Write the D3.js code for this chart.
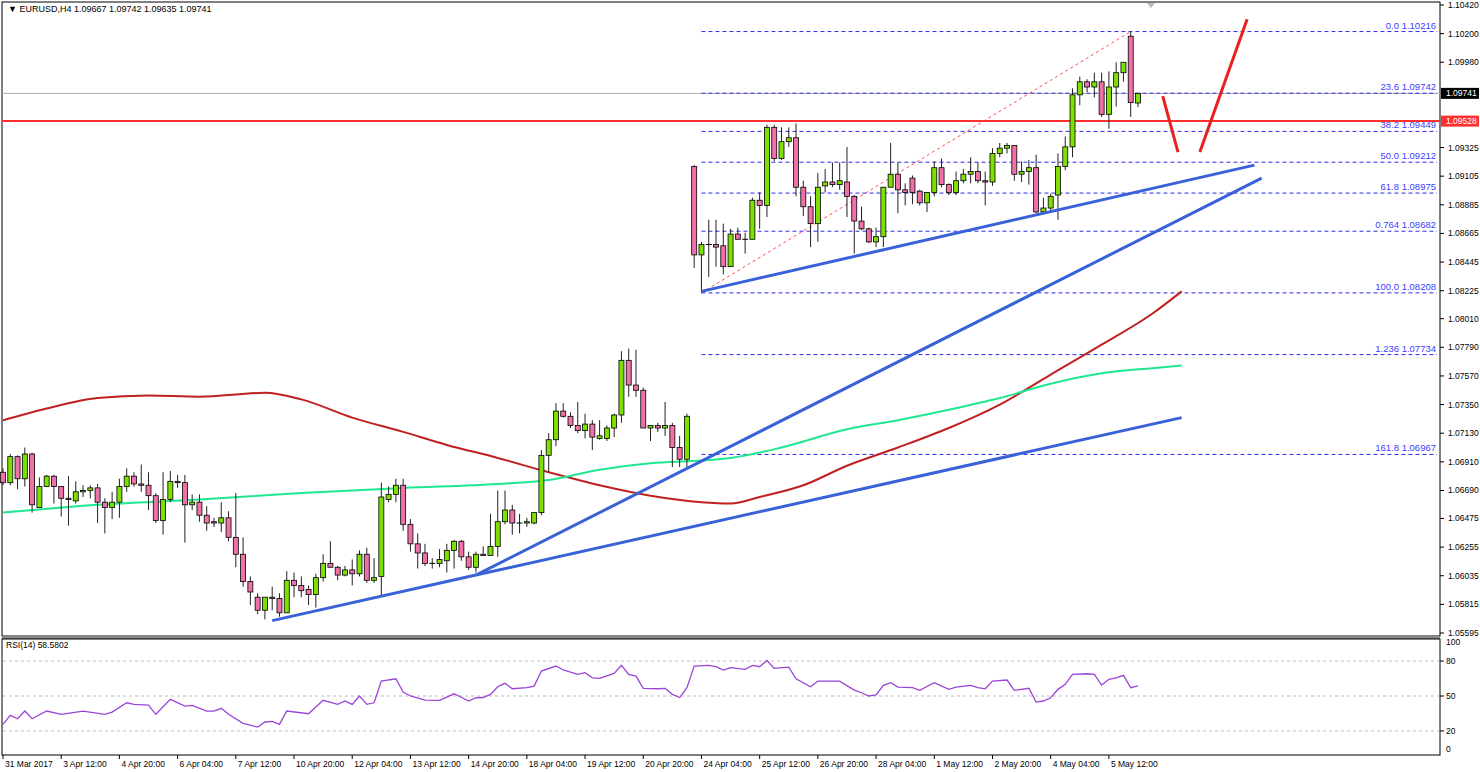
<!DOCTYPE html>
<html><head><meta charset="utf-8">
<script src="https://cdn.jsdelivr.net/npm/d3@7"></script>
<style>body{margin:0;background:#fff}svg{display:block;font-family:"Liberation Sans",Arial,sans-serif}</style>
</head><body><svg id="c" width="1480" height="772"></svg>
<script>
const ohlc=[
[1.0683,1.0686,1.0673,1.0675],[1.0675,1.0697,1.0673,1.0695],[1.0695,1.0696,1.0670,1.0678],[1.0678,1.0702,1.0672,1.0697],
[1.0697,1.0698,1.0652,1.0658],[1.0656,1.0679,1.0656,1.0672],[1.0672,1.0681,1.0672,1.0680],[1.0680,1.0681,1.0659,1.0672],
[1.0672,1.0672,1.0649,1.0663],[1.0663,1.0680,1.0642,1.0662],[1.0661,1.0676,1.0659,1.0668],[1.0668,1.0673,1.0664,1.0669],
[1.0669,1.0673,1.0663,1.0671],[1.0671,1.0674,1.0644,1.0660],[1.0660,1.0663,1.0636,1.0656],[1.0656,1.0668,1.0647,1.0660],
[1.0660,1.0678,1.0648,1.0672],[1.0672,1.0686,1.0668,1.0680],[1.0680,1.0683,1.0672,1.0674],[1.0674,1.0689,1.0668,1.0673],
[1.0673,1.0683,1.0654,1.0665],[1.0665,1.0667,1.0644,1.0646],[1.0646,1.0683,1.0635,1.0662],[1.0662,1.0684,1.0660,1.0676],
[1.0676,1.0681,1.0671,1.0675],[1.0675,1.0681,1.0629,1.0658],[1.0658,1.0666,1.0654,1.0660],[1.0660,1.0666,1.0645,1.0650],
[1.0650,1.0657,1.0638,1.0644],[1.0645,1.0648,1.0641,1.0644],[1.0644,1.0660,1.0637,1.0648],[1.0648,1.0653,1.0630,1.0633],
[1.0633,1.0667,1.0610,1.0620],[1.0620,1.0633,1.0595,1.0599],[1.0599,1.0603,1.0581,1.0591],[1.0587,1.0590,1.0574,1.0577],
[1.0577,1.0587,1.0570,1.0587],[1.0587,1.0595,1.0577,1.0586],[1.0586,1.0590,1.0572,1.0575],[1.0575,1.0607,1.0575,1.0600],
[1.0600,1.0606,1.0587,1.0596],[1.0596,1.0603,1.0587,1.0592],[1.0593,1.0596,1.0581,1.0589],[1.0589,1.0605,1.0579,1.0602],
[1.0602,1.0620,1.0599,1.0613],[1.0613,1.0630,1.0610,1.0610],[1.0610,1.0611,1.0600,1.0604],[1.0604,1.0611,1.0603,1.0608],
[1.0608,1.0616,1.0596,1.0605],[1.0605,1.0623,1.0603,1.0620],[1.0620,1.0625,1.0598,1.0600],[1.0600,1.0617,1.0598,1.0602],
[1.0603,1.0675,1.0588,1.0664],[1.0662,1.0672,1.0660,1.0666],[1.0666,1.0678,1.0660,1.0673],[1.0673,1.0678,1.0638,1.0643],
[1.0643,1.0647,1.0622,1.0628],[1.0628,1.0636,1.0609,1.0621],[1.0621,1.0628,1.0611,1.0613],[1.0613,1.0617,1.0609,1.0613],
[1.0613,1.0624,1.0610,1.0616],[1.0615,1.0628,1.0606,1.0623],[1.0623,1.0631,1.0609,1.0630],[1.0630,1.0631,1.0615,1.0618],
[1.0618,1.0622,1.0608,1.0610],[1.0610,1.0622,1.0606,1.0620],[1.0620,1.0626,1.0619,1.0619],[1.0619,1.0651,1.0619,1.0626],
[1.0626,1.0669,1.0618,1.0645],[1.0645,1.0669,1.0643,1.0654],[1.0654,1.0658,1.0635,1.0644],[1.0644,1.0651,1.0636,1.0644],
[1.0644,1.0648,1.0641,1.0645],[1.0644,1.0652,1.0643,1.0652],[1.0652,1.0700,1.0650,1.0696],[1.0696,1.0713,1.0683,1.0708],
[1.0708,1.0736,1.0703,1.0730],[1.0730,1.0736,1.0725,1.0726],[1.0726,1.0729,1.0717,1.0719],[1.0719,1.0737,1.0713,1.0715],
[1.0715,1.0728,1.0709,1.0720],[1.0720,1.0723,1.0700,1.0710],[1.0709,1.0723,1.0708,1.0711],[1.0709,1.0719,1.0707,1.0717],
[1.0717,1.0728,1.0710,1.0727],[1.0727,1.0776,1.0721,1.0769],[1.0769,1.0778,1.0741,1.0750],[1.0750,1.0777,1.0741,1.0746],
[1.0746,1.0748,1.0718,1.0717],[1.0717,1.0719,1.0707,1.0719],[1.0719,1.0721,1.0714,1.0717],[1.0717,1.0737,1.0711,1.0719],
[1.0719,1.0721,1.0687,1.0702],[1.0702,1.0711,1.0687,1.0693],[1.0693,1.0728,1.0687,1.0726],[1.0918,1.0919,1.0840,1.0850],
[1.0850,1.0860,1.0821,1.0858],[1.0858,1.0877,1.0833,1.0858],[1.0858,1.0877,1.0841,1.0856],[1.0857,1.0874,1.0835,1.0841],
[1.0841,1.0870,1.0841,1.0866],[1.0866,1.0871,1.0862,1.0862],[1.0862,1.0867,1.0851,1.0862],[1.0862,1.0894,1.0862,1.0892],
[1.0892,1.0898,1.0870,1.0888],[1.0888,1.0950,1.0879,1.0948],[1.0948,1.0950,1.0922,1.0924],[1.0924,1.0948,1.0923,1.0937],
[1.0937,1.0948,1.0933,1.0940],[1.0940,1.0951,1.0895,1.0902],[1.0902,1.0907,1.0880,1.0887],[1.0887,1.0895,1.0856,1.0874],
[1.0874,1.0913,1.0860,1.0902],[1.0903,1.0916,1.0898,1.0906],[1.0906,1.0921,1.0902,1.0904],[1.0904,1.0921,1.0900,1.0907],
[1.0906,1.0933,1.0879,1.0895],[1.0895,1.0896,1.0851,1.0876],[1.0876,1.0887,1.0869,1.0870],[1.0870,1.0871,1.0859,1.0860],
[1.0860,1.0871,1.0856,1.0864],[1.0864,1.0902,1.0856,1.0902],[1.0902,1.0936,1.0902,1.0912],[1.0912,1.0921,1.0882,1.0900],
[1.0900,1.0905,1.0888,1.0898],[1.0909,1.0911,1.0889,1.0898],[1.0899,1.0900,1.0888,1.0890],[1.0890,1.0898,1.0883,1.0898],
[1.0898,1.0922,1.0895,1.0917],[1.0917,1.0924,1.0902,1.0904],[1.0904,1.0905,1.0896,1.0898],[1.0898,1.0914,1.0896,1.0907],
[1.0907,1.0916,1.0905,1.0912],[1.0912,1.0925,1.0905,1.0914],[1.0914,1.0921,1.0905,1.0907],[1.0907,1.0914,1.0888,1.0906],
[1.0906,1.0932,1.0903,1.0928],[1.0928,1.0936,1.0925,1.0932],[1.0932,1.0936,1.0928,1.0934],[1.0934,1.0934,1.0907,1.0912],
[1.0912,1.0922,1.0906,1.0914],[1.0914,1.0923,1.0904,1.0917],[1.0917,1.0927,1.0882,1.0883],[1.0883,1.0894,1.0881,1.0886],
[1.0886,1.0897,1.0884,1.0895],[1.0896,1.0928,1.0877,1.0918],[1.0918,1.0941,1.0915,1.0933],[1.0933,1.0978,1.0925,1.0973],
[1.0973,1.0987,1.0965,1.0983],[1.0983,1.0985,1.0975,1.0979],[1.0979,1.0990,1.0971,1.0983],[1.0983,1.0990,1.0956,1.0958],
[1.0958,1.0991,1.0947,1.0979],[1.0979,1.0998,1.0964,1.0990],[1.0990,1.0998,1.0983,1.0998],[1.1018,1.10216,1.0956,1.0967],
[1.09667,1.09742,1.09635,1.09741]];

const redMaIdx=[0,6,13,20,27,36,41,48,55,61,68,75,82,89,96,100,104,110,116,123,130,137,144,151,158,162];
const redMaVal=[1.0723,1.0732,1.0740,1.0742,1.0741,1.0744,1.0739,1.0725,1.0714,1.0704,1.0694,1.0683,1.0673,1.0665,1.0660,1.0659,1.0664,1.0673,1.0688,1.0702,1.0717,1.0735,1.0758,1.0781,1.0805,1.0822];
const greenMaIdx=[0,13,27,41,55,68,75,82,89,96,100,107,116,123,130,137,144,151,158,162];
const greenMaVal=[1.0652,1.0658,1.0662,1.0667,1.0671,1.0674,1.0677,1.0685,1.0690,1.0692,1.0694,1.0702,1.0716,1.0723,1.0731,1.0740,1.0751,1.0759,1.0763,1.0765];

const rsiIdx=[0,1,2,3,4,6,8,11,14,15,17,18,20,21,23,25,26,28,29,30,31,33,35,36,37,38,39,42,44,46,47,48,49,50,51,52,54,55,56,58,60,62,64,65,66,67,68,69,70,72,73,74,76,77,79,80,81,82,84,85,86,87,88,90,91,92,93,94,95,97,98,99,100,102,103,104,105,106,108,109,111,112,114,115,117,118,119,120,121,122,123,125,126,128,130,131,133,134,135,136,138,139,141,142,143,144,145,146,147,149,150,151,152,153,154,155,156];
const rsiVal=[25.7,33.4,30.5,37.1,30.5,37.1,34.3,37.1,34.3,36.2,44.2,42.8,42.2,34.3,47.1,41.4,42.0,37.1,37.1,39.4,34.3,26.6,23.4,27.7,28.3,25.7,37.1,34.8,46.3,42.8,45.7,42.8,50.0,42.8,44.2,62.8,64.8,53.4,50.0,46.5,46.3,51.9,45.7,48.5,48.7,51.4,57.9,60.9,56.2,57.1,58.5,71.4,75.7,72.3,68.6,70.0,65.6,65.1,69.4,76.3,68.6,67.1,56.6,56.2,56.6,51.4,48.7,57.1,75.7,76.3,75.1,72.3,74.3,72.8,76.3,75.1,80.5,73.7,74.8,64.8,57.9,62.8,62.8,62.8,55.0,52.8,50.0,50.9,59.1,61.4,57.6,57.1,54.8,61.4,55.7,57.6,59.1,57.1,56.2,62.8,63.7,54.8,56.6,44.8,45.7,48.5,55.7,60.0,68.6,69.1,68.6,59.4,64.3,65.6,67.7,57.1,58.6];

const priceTicks=[1.10420,1.10200,1.09980,1.09325,1.09105,1.08885,1.08665,1.08445,1.08225,1.08010,1.07790,1.07570,1.07350,1.07130,1.06910,1.06690,1.06475,1.06255,1.06035,1.05815,1.05595];
const rsiTicks=[100,80,50,20,0];
const rsiLevels=[80,50,20];
const timeIdx=[0,8,16,24,32,40,48,56,64,72,80,88,96,104,112,120,128,136,144,152];
const timeLabels=["31 Mar 2017","3 Apr 12:00","4 Apr 20:00","6 Apr 04:00","7 Apr 12:00","10 Apr 20:00","12 Apr 04:00","13 Apr 12:00","14 Apr 20:00","18 Apr 04:00","19 Apr 12:00","20 Apr 20:00","24 Apr 04:00","25 Apr 12:00","26 Apr 20:00","28 Apr 04:00","1 May 12:00","2 May 20:00","4 May 04:00","5 May 12:00"];

const fibNames=["0.0","23.6","38.2","50.0","61.8","0.764","100.0","1.236","161.8"];
const fibVals=[1.10216,1.09742,1.09449,1.09212,1.08975,1.08682,1.08208,1.07734,1.06967];
const fibStart=96;
const fibTrend=[[96,1.08208],[155,1.10216]];

const blueLines=[[[37,1.0569],[65,1.0604]],[[65,1.0604],[162,1.0725]],[[65,1.0604],[173,1.0909]],[[96,1.0822],[172,1.0919]]];
const redArrows=[[[159.4,1.0972],[161.5,1.0929]],[[164.5,1.0929],[171,1.1031]]];
const resistance=1.09528, lastPrice=1.09741;

const svg=d3.select("#c");
const L=2,R=1440,T=2,B=636,RT=639,RB=755;
const x=d3.scaleLinear().domain([0,156]).range([3,1138]);
const y=d3.scaleLinear().domain([1.05595,1.10420]).range([633,5]);
const ry=d3.scaleLinear().domain([0,100]).range([754.3,637.7]);
const fmt=d3.format(".5f");

svg.append("rect").attr("x",L).attr("y",T).attr("width",R-L).attr("height",B-T).attr("fill","#fff").attr("stroke","#000");
svg.append("rect").attr("x",L).attr("y",B).attr("width",R-L).attr("height",RT-B).attr("fill","#888");
svg.append("rect").attr("x",L).attr("y",RT).attr("width",R-L).attr("height",RB-RT).attr("fill","#fff").attr("stroke","#000");

const main=svg.append("g");
main.append("line").attr("x1",L).attr("x2",R).attr("y1",y(lastPrice)).attr("y2",y(lastPrice)).attr("stroke","#b0b0b0");
fibVals.forEach((v,i)=>{
  main.append("line").attr("x1",x(fibStart)).attr("x2",R-3).attr("y1",y(v)).attr("y2",y(v)).attr("stroke","#2a2af0").attr("stroke-dasharray","4,3");
  main.append("text").attr("x",R-4).attr("y",y(v)-3).attr("text-anchor","end").attr("font-size",9.5).attr("fill","#4040ff").text(fibNames[i]+" "+fmt(v));
});
main.append("line").attr("x1",x(fibTrend[0][0])).attr("y1",y(fibTrend[0][1])).attr("x2",x(fibTrend[1][0])).attr("y2",y(fibTrend[1][1])).attr("stroke","#ff5050").attr("stroke-dasharray","3,3");
main.append("line").attr("x1",L).attr("x2",R).attr("y1",y(resistance)).attr("y2",y(resistance)).attr("stroke","#ff3030").attr("stroke-width",2);
const maLine=d3.line().x(d=>x(d[0])).y(d=>y(d[1])).curve(d3.curveMonotoneX);
main.append("path").attr("d",maLine(redMaIdx.map((v,i)=>[v,redMaVal[i]]))).attr("fill","none").attr("stroke","#c02020").attr("stroke-width",2);
main.append("path").attr("d",maLine(greenMaIdx.map((v,i)=>[v,greenMaVal[i]]))).attr("fill","none").attr("stroke","#20e890").attr("stroke-width",2);
ohlc.forEach((d,i)=>{
  const [o,h,l,c]=d, cx=x(i);
  main.append("line").attr("x1",cx).attr("x2",cx).attr("y1",y(h)).attr("y2",y(l)).attr("stroke","#222");
  const top=y(Math.max(o,c)), bot=y(Math.min(o,c));
  const up=c>=o;
  if(bot-top<1){
    main.append("line").attr("x1",cx-3).attr("x2",cx+3).attr("y1",top).attr("y2",top).attr("stroke","#000");
  } else {
    main.append("rect").attr("x",cx-2.5).attr("y",top).attr("width",5).attr("height",bot-top).attr("fill",up?"#7ee000":"#f070a8").attr("stroke","#000").attr("stroke-width",0.8);
  }
});
blueLines.forEach(s=>main.append("line").attr("x1",x(s[0][0])).attr("y1",y(s[0][1])).attr("x2",x(s[1][0])).attr("y2",y(s[1][1])).attr("stroke","#3a62d8").attr("stroke-width",3));
redArrows.forEach(s=>main.append("line").attr("x1",x(s[0][0])).attr("y1",y(s[0][1])).attr("x2",x(s[1][0])).attr("y2",y(s[1][1])).attr("stroke","#e82020").attr("stroke-width",3));
svg.append("path").attr("d","M1147,3 L1155,3 L1151,8 Z").attr("fill","#bbb");

priceTicks.forEach(v=>{
  svg.append("line").attr("x1",R).attr("x2",R+4).attr("y1",y(v)).attr("y2",y(v)).attr("stroke","#000");
  svg.append("text").attr("x",R+8).attr("y",y(v)+3).attr("font-size",8.5).text(fmt(v));
});
[[lastPrice,"#000"],[resistance,"#ff3030"]].forEach(([v,col])=>{
  svg.append("rect").attr("x",R+1).attr("y",y(v)-5.5).attr("width",38).attr("height",11).attr("fill",col);
  svg.append("text").attr("x",R+6).attr("y",y(v)+3).attr("font-size",8.5).attr("fill","#fff").text(fmt(v));
});
svg.append("text").attr("x",8).attr("y",12).attr("font-size",9).text("\u25BC EURUSD,H4  1.09667 1.09742 1.09635 1.09741");

rsiLevels.forEach(v=>svg.append("line").attr("x1",L+1).attr("x2",R-1).attr("y1",ry(v)).attr("y2",ry(v)).attr("stroke","#bbb").attr("stroke-dasharray","3,3"));
rsiTicks.forEach(v=>{
  if(v!==100&&v!==0) svg.append("line").attr("x1",R).attr("x2",R+4).attr("y1",ry(v)).attr("y2",ry(v)).attr("stroke","#000");
  svg.append("text").attr("x",R+6).attr("y",ry(v)+(v===100?7:v===0?-2:3)).attr("font-size",8.5).text(v);
});
const rl=d3.line().x(d=>x(d[0])).y(d=>ry(d[1]));
svg.append("path").attr("d",rl(rsiIdx.map((v,i)=>[v,rsiVal[i]]))).attr("fill","none").attr("stroke","#9a44d8").attr("stroke-width",1.3);
svg.append("text").attr("x",6).attr("y",648).attr("font-size",8.5).text("RSI(14) 58.5802");

timeIdx.forEach((t,i)=>{
  svg.append("line").attr("x1",x(t)).attr("x2",x(t)).attr("y1",RB).attr("y2",RB+4).attr("stroke","#000");
  svg.append("text").attr("x",x(t)+2).attr("y",767).attr("font-size",8.5).text(timeLabels[i]);
});
</script></body></html>
